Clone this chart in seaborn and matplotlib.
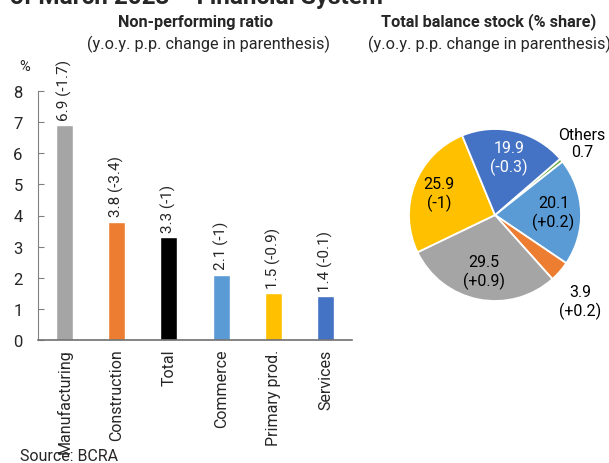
import numpy as np
import pandas as pd
import matplotlib
matplotlib.use("Agg")
import matplotlib.pyplot as plt
import seaborn as sns

# ---- data ----
categories = ["Manufacturing", "Construction", "Total", "Commerce", "Primary prod.", "Services"]
npl_ratio = [6.9, 3.8, 3.3, 2.1, 1.5, 1.4]
npl_change = ["-1.7", "-3.4", "-1", "-1", "-0.9", "-0.1"]
bar_colors = ["#A5A5A5", "#ED7D31", "#000000", "#5B9BD5", "#FFC000", "#4472C4"]

pie_labels = ["Others", "Commerce", "Construction", "Manufacturing", "Primary prod.", "Services"]
pie_share = [0.7, 20.1, 3.9, 29.5, 25.9, 19.9]
pie_change = ["", "+0.2", "+0.2", "+0.9", "-1", "-0.3"]
pie_colors = ["#70AD47", "#5B9BD5", "#ED7D31", "#A5A5A5", "#FFC000", "#4472C4"]

sns.set_style("white")
plt.rcParams["font.family"] = ["Roboto", "DejaVu Sans"]

W, H = 609, 464
fig = plt.figure(figsize=(W / 100, H / 100), dpi=100)

def px(x0, y0, x1, y1):
    return [x0 / W, 1 - y1 / H, (x1 - x0) / W, (y1 - y0) / H]

# ---- bar chart ----
ax = fig.add_axes(px(38, 92, 352, 341))
df = pd.DataFrame({"cat": categories, "val": npl_ratio})
sns.barplot(data=df, x="cat", y="val", hue="cat", palette=bar_colors,
            legend=False, width=0.33, ax=ax, saturation=1)
ax.set_xlim(-0.5, len(categories) - 0.5)
ax.set_ylim(0, 8)
ax.set_yticks(range(0, 9))
ax.set_xlabel("")
ax.set_ylabel("")
ax.tick_params(axis="y", direction="in", length=4, color="#808080", labelsize=12, pad=11, left=True)
ax.tick_params(axis="x", length=0, labelsize=11.5, rotation=90, pad=6)
for s in ["top", "right"]:
    ax.spines[s].set_visible(False)
ax.spines["left"].set_color("#808080")
ax.spines["bottom"].set_color("#707070")
ax.spines["bottom"].set_linewidth(1.2)

for i, (v, c) in enumerate(zip(npl_ratio, npl_change)):
    ax.annotate(f"{v} ({c})", xy=(i, v), xytext=(0, 4), textcoords="offset points",
                rotation=90, ha="center", va="bottom", fontsize=11)

fig.text(25 / W, 1 - 67 / H, "%", ha="center", va="center", fontsize=10.5)

fig.text(196 / W, 1 - 22 / H, "Non-performing ratio", ha="center", va="center",
         fontsize=11.7, fontweight="bold")
fig.text(208 / W, 1 - 44 / H, "(y.o.y. p.p. change in parenthesis)", ha="center",
         va="center", fontsize=11.7)

# ---- pie chart ----
pax = fig.add_axes(px(495 - 86, 216 - 86, 495 + 86, 216 + 86))
wedges, _ = pax.pie(pie_share, colors=pie_colors, startangle=40.8, counterclock=False,
                    wedgeprops=dict(edgecolor="white", linewidth=1.3))
pax.set_xlim(-1, 1)
pax.set_ylim(-1, 1)
for w in wedges:
    w.set_clip_on(False)

dist = [1.31, 0.68, 1.41, 0.67, 0.70, 0.69]
ang_shift = [-0.0, 0.0, -4.5, 0.0, 0.0, 0.0]
txtcol = ["black", "black", "black", "black", "black", "white"]
for w, lab, v, c, d, sh, tc in zip(wedges, pie_labels, pie_share, pie_change, dist, ang_shift, txtcol):
    ang = np.deg2rad((w.theta1 + w.theta2) / 2 + sh)
    if lab == "Others":
        s = f"Others\n{v}"
    else:
        s = f"{v}\n({c})"
    pax.text(d * np.cos(ang), d * np.sin(ang), s, ha="center", va="center",
             fontsize=11.5, color=tc, clip_on=False, linespacing=1.2)

fig.text(489 / W, 1 - 22 / H, "Total balance stock (% share)", ha="center", va="center",
         fontsize=11.7, fontweight="bold")
fig.text(489 / W, 1 - 44 / H, "(y.o.y. p.p. change in parenthesis)", ha="center",
         va="center", fontsize=11.7)

# ---- cropped header / footer ----
fig.text(10 / W, 1 - 4 / H, "of March 2023 \u2013 Financial System", ha="left",
         va="baseline", fontsize=17.5, fontweight="bold")
fig.text(20 / W, 1 - 461 / H, "Source: BCRA", ha="left", va="baseline", fontsize=11.5)

fig.savefig("out.png", dpi=100)
